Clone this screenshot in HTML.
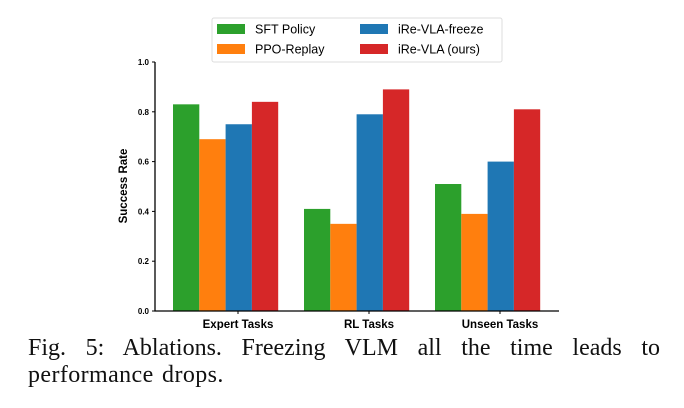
<!DOCTYPE html>
<html><head><meta charset="utf-8"><style>
body{margin:0;background:#fff;width:684px;height:408px;overflow:hidden;position:relative}
.cap{position:absolute;left:28px;width:632px;font-family:"Liberation Serif",serif;font-size:24px;line-height:28px;color:#111;white-space:nowrap}
#cap1{top:334px;text-align:justify;text-align-last:justify}
#cap2{top:361px;letter-spacing:0.4px;word-spacing:2px}
</style></head><body>
<svg id="chart" width="684" height="330" style="position:absolute;left:0;top:0" font-family="Liberation Sans, DejaVu Sans, sans-serif"></svg>
<div id="cap1" class="cap">Fig. 5: Ablations. Freezing VLM all the time leads to</div>
<div id="cap2" class="cap">performance drops.</div>
<script>
const categories=["Expert Tasks","RL Tasks","Unseen Tasks"];
const seriesNames=["SFT Policy","PPO-Replay","iRe-VLA-freeze","iRe-VLA (ours)"];
const sft=[0.83,0.41,0.51];
const ppo=[0.69,0.35,0.39];
const freeze=[0.75,0.79,0.60];
const ours=[0.84,0.89,0.81];
const yTicks=[0.0,0.2,0.4,0.6,0.8,1.0];
const colors=["#2ca02c","#ff7f0e","#1f77b4","#d62728"];
const series=[sft,ppo,freeze,ours];
const svg=document.getElementById('chart');
const NS="http://www.w3.org/2000/svg";
function mk(t,a,p){const e=document.createElementNS(NS,t);for(const k in a)e.setAttribute(k,a[k]);(p||svg).appendChild(e);return e;}
const x0=155,x1=559,yB=311,yT=62;
const y=v=>yB-(yB-yT)*v;
const bw=26.3, gStart=i=>173+131*i;
const tickX=i=>238+131*i;
series.forEach((s,si)=>s.forEach((v,ci)=>{
 const r=mk('rect',{x:gStart(ci)+si*bw,y:y(v),width:bw,height:yB-y(v),fill:colors[si]});
 
 
}));
const ax=mk('path',{d:`M${x0},${yT} V${yB} H${x1}`,stroke:'#000','stroke-width':1.3,fill:'none'});


yTicks.forEach(t=>{
 mk('line',{x1:x0-3,x2:x0,y1:y(t),y2:y(t),stroke:'#000'});
 const tx=mk('text',{x:x0-6,y:y(t)+3,'font-size':8,'font-weight':'bold','text-anchor':'end'});
 tx.textContent=t.toFixed(1);
 
 
});
categories.forEach((c,i)=>{
 mk('line',{x1:tickX(i),x2:tickX(i),y1:yB,y2:yB+3,stroke:'#000'});
 const tx=mk('text',{x:tickX(i),y:yB+17,'font-size':11.5,'font-weight':'bold','text-anchor':'middle'});
 tx.textContent=c;
 
 
});
const yl=mk('text',{x:0,y:0,transform:'translate(127,186) rotate(-90)','font-size':11.5,'font-weight':'bold','text-anchor':'middle'});
yl.textContent='Success Rate';


const lg=mk('g',{});


mk('rect',{x:212,y:18,width:290,height:44,rx:2,fill:'#fff',stroke:'#ddd'},lg);
const lpos=[[217,29],[217,49],[360,29],[360,49]];
seriesNames.forEach((n,i)=>{
 const [lx,ly]=lpos[i];
 mk('rect',{x:lx,y:ly-5,width:28,height:10,fill:colors[i]},lg);
 const t=mk('text',{x:lx+38,y:ly+4.5,'font-size':12.5},lg);
 t.textContent=n;
 
 
});
</script>
</body></html>
